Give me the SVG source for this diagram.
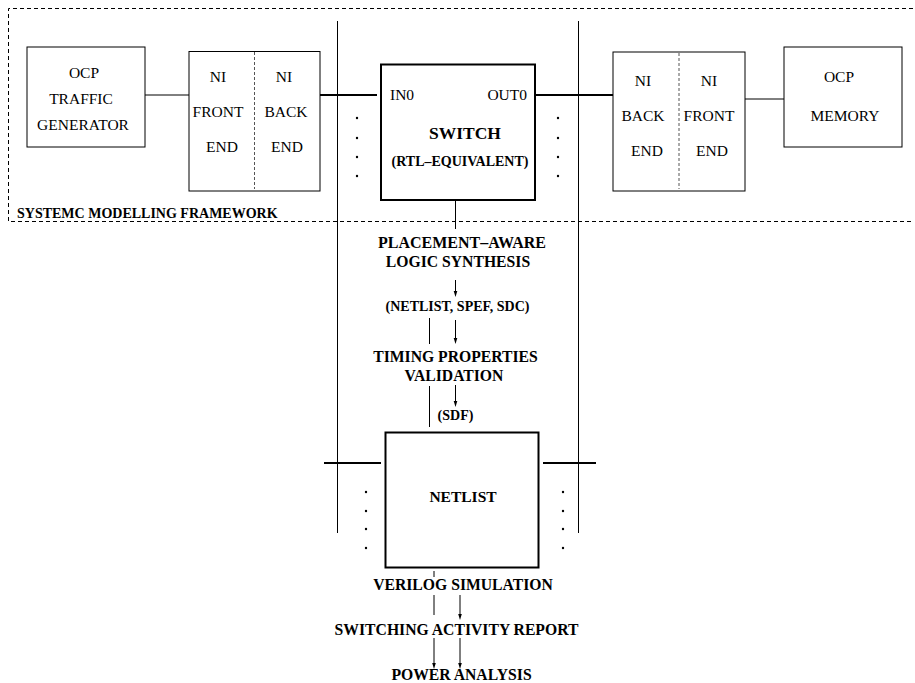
<svg xmlns="http://www.w3.org/2000/svg" width="915" height="683" viewBox="0 0 915 683">
<defs>
<marker id="ah" markerWidth="6" markerHeight="10" refX="5" refY="3" orient="auto" markerUnits="userSpaceOnUse" viewBox="0 0 10 6">
<path d="M0,0 L10,3 L0,6 Z" fill="#000"/>
</marker>
<style>
.t{font-family:"Liberation Serif","Times New Roman",serif;font-size:15.5px;fill:#000}
.b{font-family:"Liberation Serif","Times New Roman",serif;font-weight:bold;fill:#000}
.box{fill:#fff;stroke:#000;stroke-width:1}
.thick{fill:#fff;stroke:#000;stroke-width:2}
.ln{stroke:#000;stroke-width:1;fill:none}
.lt{stroke:#000;stroke-width:1.8;fill:none}
.dash{stroke:#000;stroke-width:1;stroke-dasharray:4,3;fill:none}
.dash2{stroke:#555;stroke-width:1;stroke-dasharray:3,2;fill:none}
.arr{stroke:#000;stroke-width:1;fill:none;marker-end:url(#ah)}
.dot{fill:#000}
</style>
</defs>
<rect width="915" height="683" fill="#fff"/>

<g id="framework">
<path class="dash" d="M913,8.5 H8.5 V221.5 H913"/>
<text class="b" x="17" y="218" font-size="14">SYSTEMC MODELLING FRAMEWORK</text>
</g>

<g id="connectors">
<line class="ln" x1="145" y1="95" x2="189" y2="95"/>
<line class="lt" x1="320" y1="95" x2="377" y2="95"/>
<line class="lt" x1="535" y1="95" x2="613" y2="95"/>
<line class="ln" x1="745" y1="99" x2="784" y2="99"/>
<line class="ln" x1="337.5" y1="21" x2="337.5" y2="533"/>
<line class="ln" x1="578.5" y1="21" x2="578.5" y2="533"/>
<line class="ln" x1="455.5" y1="200" x2="455.5" y2="229"/>
<line class="arr" x1="455.5" y1="280" x2="455.5" y2="294"/>
<line class="arr" x1="455.5" y1="320" x2="455.5" y2="341"/>
<line class="ln" x1="429.5" y1="318" x2="429.5" y2="344"/>
<line class="arr" x1="455.5" y1="385" x2="455.5" y2="404"/>
<line class="ln" x1="429.5" y1="386" x2="429.5" y2="427"/>
<line class="lt" x1="324" y1="463" x2="381" y2="463"/>
<line class="lt" x1="543" y1="463" x2="596" y2="463"/>
<line class="ln" x1="434" y1="571" x2="434" y2="577"/>
<line class="ln" x1="434" y1="595" x2="434" y2="615"/>
<line class="arr" x1="460" y1="595" x2="460" y2="617"/>
<line class="arr" x1="434" y1="638" x2="434" y2="666"/>
<line class="arr" x1="460" y1="638" x2="460" y2="666"/>
<g class="dot">
<circle cx="357" cy="118" r="1.2"/><circle cx="357" cy="138" r="1.2"/><circle cx="357" cy="157" r="1.2"/><circle cx="357" cy="176" r="1.2"/>
<circle cx="558" cy="118" r="1.2"/><circle cx="558" cy="138" r="1.2"/><circle cx="558" cy="157" r="1.2"/><circle cx="558" cy="176" r="1.2"/>
<circle cx="366" cy="492" r="1.2"/><circle cx="366" cy="511" r="1.2"/><circle cx="366" cy="529" r="1.2"/><circle cx="366" cy="548" r="1.2"/>
<circle cx="563" cy="492" r="1.2"/><circle cx="563" cy="511" r="1.2"/><circle cx="563" cy="529" r="1.2"/><circle cx="563" cy="548" r="1.2"/>
</g>
</g>

<g id="ocp-traffic-generator">
<rect class="box" x="27" y="47" width="118" height="100"/>
<text class="t" text-anchor="middle" x="84" y="78">OCP</text>
<text class="t" text-anchor="middle" x="81" y="104">TRAFFIC</text>
<text class="t" text-anchor="middle" x="83" y="130">GENERATOR</text>
</g>

<g id="ni-left">
<rect class="box" x="189" y="51.5" width="131" height="139.5"/>
<line class="dash2" x1="254.5" y1="52" x2="254.5" y2="189"/>
<text class="t" text-anchor="middle" x="218" y="82">NI</text>
<text class="t" text-anchor="middle" x="218" y="117">FRONT</text>
<text class="t" text-anchor="middle" x="222" y="152">END</text>
<text class="t" text-anchor="middle" x="284" y="82">NI</text>
<text class="t" text-anchor="middle" x="286" y="117">BACK</text>
<text class="t" text-anchor="middle" x="287" y="152">END</text>
</g>

<g id="switch">
<rect class="thick" x="381" y="64.5" width="154" height="135.5"/>
<text class="t" x="390" y="100">IN0</text>
<text class="t" text-anchor="end" x="527" y="100">OUT0</text>
<text class="b" text-anchor="middle" x="465" y="139" font-size="17.5">SWITCH</text>
<text class="b" text-anchor="middle" x="460" y="166" font-size="14">(RTL–EQUIVALENT)</text>
</g>

<g id="ni-right">
<rect class="box" x="613" y="52" width="132" height="139"/>
<line class="dash2" x1="679" y1="53" x2="679" y2="189"/>
<text class="t" text-anchor="middle" x="643" y="86">NI</text>
<text class="t" text-anchor="middle" x="643" y="121">BACK</text>
<text class="t" text-anchor="middle" x="647" y="156">END</text>
<text class="t" text-anchor="middle" x="709" y="86">NI</text>
<text class="t" text-anchor="middle" x="709" y="121">FRONT</text>
<text class="t" text-anchor="middle" x="712" y="156">END</text>
</g>

<g id="ocp-memory">
<rect class="box" x="784" y="47" width="118" height="100"/>
<text class="t" text-anchor="middle" x="839" y="82">OCP</text>
<text class="t" text-anchor="middle" x="845" y="121">MEMORY</text>
</g>

<g id="synthesis">
<text class="b" text-anchor="middle" x="462" y="248" font-size="16">PLACEMENT–AWARE</text>
<text class="b" text-anchor="middle" x="458" y="267" font-size="15.7">LOGIC SYNTHESIS</text>
</g>

<g id="netlist-spef-sdc">
<text class="b" text-anchor="middle" x="457.5" y="311" font-size="14">(NETLIST, SPEF, SDC)</text>
</g>

<g id="timing">
<text class="b" text-anchor="middle" x="455.5" y="362" font-size="15.7">TIMING PROPERTIES</text>
<text class="b" text-anchor="middle" x="454" y="380.5" font-size="15.7">VALIDATION</text>
</g>

<g id="sdf">
<text class="b" text-anchor="middle" x="455.5" y="420" font-size="14">(SDF)</text>
</g>

<g id="netlist">
<rect class="thick" x="385.5" y="432.5" width="153" height="135"/>
<text class="b" text-anchor="middle" x="463" y="502" font-size="15.5">NETLIST</text>
</g>

<g id="verilog">
<text class="b" text-anchor="middle" x="463" y="590" font-size="15.7">VERILOG SIMULATION</text>
</g>

<g id="switching-report">
<text class="b" text-anchor="middle" x="456.5" y="634.5" font-size="15.7">SWITCHING ACTIVITY REPORT</text>
</g>

<g id="power">
<text class="b" text-anchor="middle" x="461.5" y="680" font-size="15.7">POWER ANALYSIS</text>
</g>
</svg>
